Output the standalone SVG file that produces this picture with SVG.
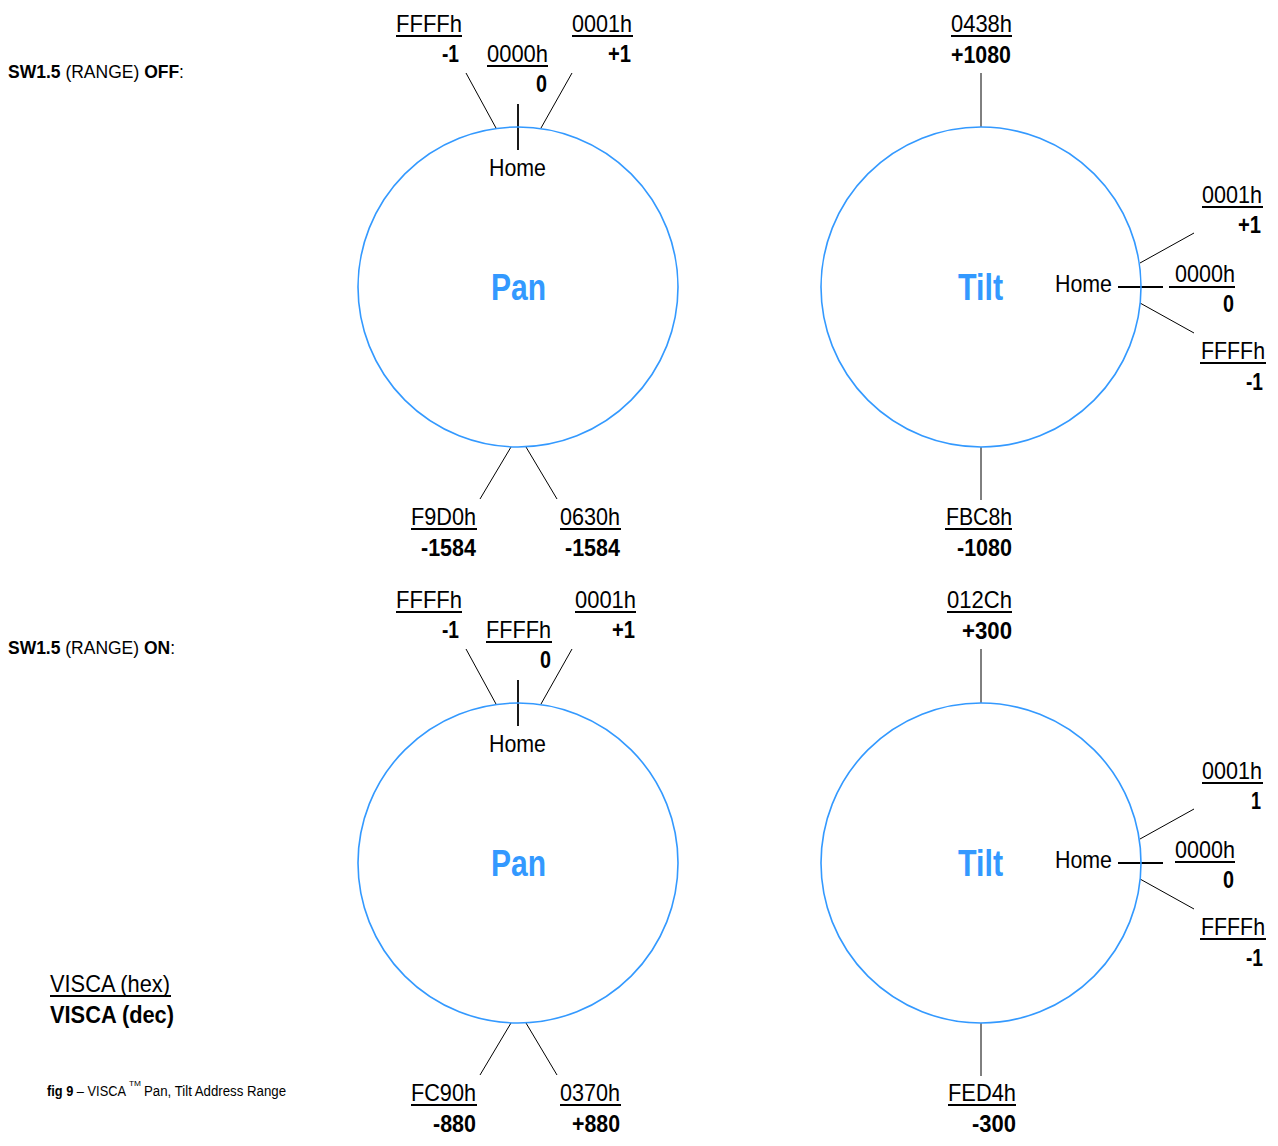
<svg xmlns="http://www.w3.org/2000/svg" width="1278" height="1146" viewBox="0 0 1278 1146">
<style>
text{font-family:"Liberation Sans Narrow","Arial Narrow","Liberation Sans",Arial,sans-serif;fill:#000}
.hex{font-size:24px}
.dec{font-size:24px;font-weight:bold;text-anchor:end}
.home{font-size:24px}
.big{font-size:36px;font-weight:bold;fill:#3399ff}
.sw{font-size:18px}
.b{font-weight:bold}
.ring{fill:none;stroke:#3399ff;stroke-width:1.6}
.ul{stroke:#000;stroke-width:2}
.ln{stroke:#000;stroke-width:1}
.tk{stroke:#000;stroke-width:1.8}
</style>
<rect width="1278" height="1146" fill="#fff"/>

<g id="caption-off"><text class="sw" x="8" y="78" textLength="176" lengthAdjust="spacingAndGlyphs"><tspan class="b">SW1.5</tspan> (RANGE) <tspan class="b">OFF</tspan>:</text></g>
<g id="caption-on"><text class="sw" x="8" y="654" textLength="167" lengthAdjust="spacingAndGlyphs"><tspan class="b">SW1.5</tspan> (RANGE) <tspan class="b">ON</tspan>:</text></g>

<g id="connectors">
<line class="ln" x1="466" y1="73" x2="496" y2="128"/>
<line class="ln" x1="572" y1="73" x2="541" y2="128"/>
<line class="tk" x1="518" y1="104" x2="518" y2="150"/>
<line class="ln" x1="511" y1="447" x2="480" y2="499"/>
<line class="ln" x1="526" y1="447" x2="557" y2="499"/>
<line class="ln" x1="981" y1="73" x2="981" y2="127"/>
<line class="ln" x1="981" y1="447" x2="981" y2="500"/>
<line class="tk" x1="1118" y1="287" x2="1163" y2="287"/>
<line class="ln" x1="1140" y1="263" x2="1194" y2="233"/>
<line class="ln" x1="1140" y1="303" x2="1194" y2="333"/>
<line class="ln" x1="466" y1="649" x2="496" y2="704"/>
<line class="ln" x1="572" y1="649" x2="541" y2="704"/>
<line class="tk" x1="518" y1="680" x2="518" y2="726"/>
<line class="ln" x1="511" y1="1023" x2="480" y2="1075"/>
<line class="ln" x1="526" y1="1023" x2="557" y2="1075"/>
<line class="ln" x1="981" y1="649" x2="981" y2="703"/>
<line class="ln" x1="981" y1="1023" x2="981" y2="1076"/>
<line class="tk" x1="1118" y1="863" x2="1163" y2="863"/>
<line class="ln" x1="1140" y1="839" x2="1194" y2="809"/>
<line class="ln" x1="1140" y1="879" x2="1194" y2="909"/>
</g>

<g id="pan-off">
<circle class="ring" cx="518" cy="287" r="160"/>
<text class="big" x="491" y="300" textLength="55" lengthAdjust="spacingAndGlyphs">Pan</text>
<text class="home" x="489" y="176" textLength="57" lengthAdjust="spacingAndGlyphs">Home</text>
</g>
<g id="pan-off-m1"><text class="hex" x="396" y="32" textLength="66" lengthAdjust="spacingAndGlyphs">FFFFh</text><line class="ul" x1="396" y1="36" x2="462" y2="36"/><text class="dec" x="459" y="62" textLength="17" lengthAdjust="spacingAndGlyphs">-1</text></g>
<g id="pan-off-0"><text class="hex" x="487" y="62" textLength="61" lengthAdjust="spacingAndGlyphs">0000h</text><line class="ul" x1="487" y1="66" x2="548" y2="66"/><text class="dec" x="547" y="92" textLength="11" lengthAdjust="spacingAndGlyphs">0</text></g>
<g id="pan-off-p1"><text class="hex" x="572" y="32" textLength="60" lengthAdjust="spacingAndGlyphs">0001h</text><line class="ul" x1="572" y1="36" x2="633" y2="36"/><text class="dec" x="631" y="62" textLength="23" lengthAdjust="spacingAndGlyphs">+1</text></g>
<g id="pan-off-min"><text class="hex" x="411" y="525" textLength="65" lengthAdjust="spacingAndGlyphs">F9D0h</text><line class="ul" x1="411" y1="529" x2="477" y2="529"/><text class="dec" x="476" y="556" textLength="55" lengthAdjust="spacingAndGlyphs">-1584</text></g>
<g id="pan-off-max"><text class="hex" x="560" y="525" textLength="60" lengthAdjust="spacingAndGlyphs">0630h</text><line class="ul" x1="560" y1="529" x2="621" y2="529"/><text class="dec" x="620" y="556" textLength="55" lengthAdjust="spacingAndGlyphs">-1584</text></g>

<g id="tilt-off">
<circle class="ring" cx="981" cy="287" r="160"/>
<text class="big" x="958" y="300" textLength="45" lengthAdjust="spacingAndGlyphs">Tilt</text>
<text class="home" x="1055" y="292" textLength="57" lengthAdjust="spacingAndGlyphs">Home</text>
</g>
<g id="tilt-off-max"><text class="hex" x="951" y="32" textLength="61" lengthAdjust="spacingAndGlyphs">0438h</text><line class="ul" x1="951" y1="36" x2="1012" y2="36"/><text class="dec" x="1011" y="63" textLength="60" lengthAdjust="spacingAndGlyphs">+1080</text></g>
<g id="tilt-off-p1"><text class="hex" x="1202" y="203" textLength="60" lengthAdjust="spacingAndGlyphs">0001h</text><line class="ul" x1="1202" y1="207" x2="1263" y2="207"/><text class="dec" x="1261" y="233" textLength="23" lengthAdjust="spacingAndGlyphs">+1</text></g>
<g id="tilt-off-0"><text class="hex" x="1175" y="282" textLength="60" lengthAdjust="spacingAndGlyphs">0000h</text><line class="ul" x1="1169" y1="287" x2="1235" y2="287"/><text class="dec" x="1234" y="312" textLength="11" lengthAdjust="spacingAndGlyphs">0</text></g>
<g id="tilt-off-m1"><text class="hex" x="1201" y="359" textLength="64" lengthAdjust="spacingAndGlyphs">FFFFh</text><line class="ul" x1="1200" y1="363" x2="1266" y2="363"/><text class="dec" x="1263" y="390" textLength="17" lengthAdjust="spacingAndGlyphs">-1</text></g>
<g id="tilt-off-min"><text class="hex" x="946" y="525" textLength="66" lengthAdjust="spacingAndGlyphs">FBC8h</text><line class="ul" x1="945" y1="529" x2="1012" y2="529"/><text class="dec" x="1012" y="556" textLength="55" lengthAdjust="spacingAndGlyphs">-1080</text></g>

<g id="pan-on">
<circle class="ring" cx="518" cy="863" r="160"/>
<text class="big" x="491" y="876" textLength="55" lengthAdjust="spacingAndGlyphs">Pan</text>
<text class="home" x="489" y="752" textLength="57" lengthAdjust="spacingAndGlyphs">Home</text>
</g>
<g id="pan-on-m1"><text class="hex" x="396" y="608" textLength="66" lengthAdjust="spacingAndGlyphs">FFFFh</text><line class="ul" x1="396" y1="612" x2="462" y2="612"/><text class="dec" x="459" y="638" textLength="17" lengthAdjust="spacingAndGlyphs">-1</text></g>
<g id="pan-on-0"><text class="hex" x="486" y="638" textLength="65" lengthAdjust="spacingAndGlyphs">FFFFh</text><line class="ul" x1="486" y1="642" x2="552" y2="642"/><text class="dec" x="551" y="668" textLength="11" lengthAdjust="spacingAndGlyphs">0</text></g>
<g id="pan-on-p1"><text class="hex" x="575" y="608" textLength="61" lengthAdjust="spacingAndGlyphs">0001h</text><line class="ul" x1="575" y1="612" x2="636" y2="612"/><text class="dec" x="635" y="638" textLength="23" lengthAdjust="spacingAndGlyphs">+1</text></g>
<g id="pan-on-min"><text class="hex" x="411" y="1101" textLength="65" lengthAdjust="spacingAndGlyphs">FC90h</text><line class="ul" x1="411" y1="1105" x2="477" y2="1105"/><text class="dec" x="476" y="1132" textLength="43" lengthAdjust="spacingAndGlyphs">-880</text></g>
<g id="pan-on-max"><text class="hex" x="560" y="1101" textLength="60" lengthAdjust="spacingAndGlyphs">0370h</text><line class="ul" x1="560" y1="1105" x2="621" y2="1105"/><text class="dec" x="620" y="1132" textLength="48" lengthAdjust="spacingAndGlyphs">+880</text></g>

<g id="tilt-on">
<circle class="ring" cx="981" cy="863" r="160"/>
<text class="big" x="958" y="876" textLength="45" lengthAdjust="spacingAndGlyphs">Tilt</text>
<text class="home" x="1055" y="868" textLength="57" lengthAdjust="spacingAndGlyphs">Home</text>
</g>
<g id="tilt-on-max"><text class="hex" x="947" y="608" textLength="65" lengthAdjust="spacingAndGlyphs">012Ch</text><line class="ul" x1="947" y1="612" x2="1012" y2="612"/><text class="dec" x="1012" y="639" textLength="50" lengthAdjust="spacingAndGlyphs">+300</text></g>
<g id="tilt-on-p1"><text class="hex" x="1202" y="779" textLength="60" lengthAdjust="spacingAndGlyphs">0001h</text><line class="ul" x1="1202" y1="783" x2="1263" y2="783"/><text class="dec" x="1261" y="809" textLength="10" lengthAdjust="spacingAndGlyphs">1</text></g>
<g id="tilt-on-0"><text class="hex" x="1175" y="858" textLength="60" lengthAdjust="spacingAndGlyphs">0000h</text><line class="ul" x1="1175" y1="862" x2="1235" y2="862"/><text class="dec" x="1234" y="888" textLength="11" lengthAdjust="spacingAndGlyphs">0</text></g>
<g id="tilt-on-m1"><text class="hex" x="1201" y="935" textLength="64" lengthAdjust="spacingAndGlyphs">FFFFh</text><line class="ul" x1="1200" y1="939" x2="1266" y2="939"/><text class="dec" x="1263" y="966" textLength="17" lengthAdjust="spacingAndGlyphs">-1</text></g>
<g id="tilt-on-min"><text class="hex" x="948" y="1101" textLength="68" lengthAdjust="spacingAndGlyphs">FED4h</text><line class="ul" x1="948" y1="1105" x2="1016" y2="1105"/><text class="dec" x="1016" y="1132" textLength="44" lengthAdjust="spacingAndGlyphs">-300</text></g>

<g id="legend">
<text class="hex" x="50" y="992" textLength="120" lengthAdjust="spacingAndGlyphs">VISCA (hex)</text>
<line class="ul" x1="50" y1="996" x2="171" y2="996"/>
<text class="hex b" x="50" y="1023" textLength="124" lengthAdjust="spacingAndGlyphs">VISCA (dec)</text>
</g>
<g id="figure-caption">
<text x="47" y="1096" font-size="14" textLength="79" lengthAdjust="spacingAndGlyphs"><tspan font-weight="bold">fig 9</tspan> – VISCA</text>
<text x="129" y="1086" font-size="8" textLength="12" lengthAdjust="spacingAndGlyphs">TM</text>
<text x="144" y="1096" font-size="14" textLength="142" lengthAdjust="spacingAndGlyphs">Pan, Tilt Address Range</text>
</g>
</svg>
